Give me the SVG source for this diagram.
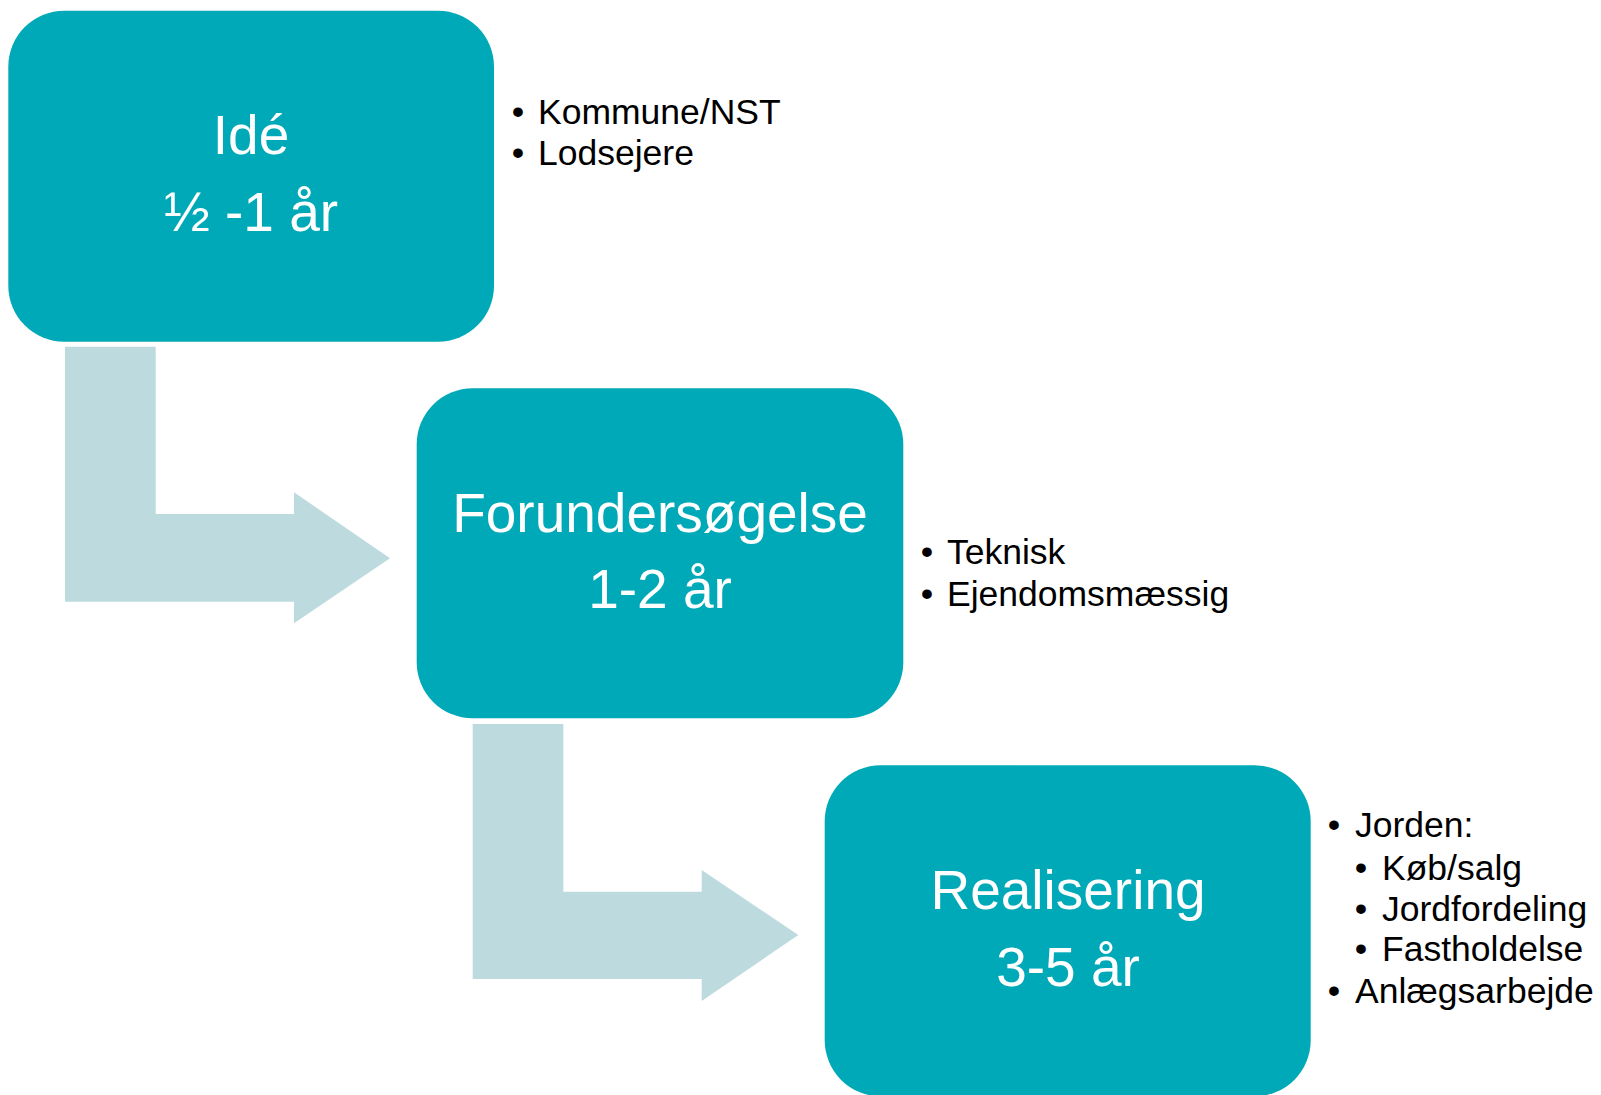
<svg xmlns="http://www.w3.org/2000/svg" width="1601" height="1095" viewBox="0 0 1601 1095">
<style>
.box{fill:#00A9B7}
.arrow{fill:#BDDADE}
.title{font-family:"Liberation Sans",Arial,sans-serif;font-size:55px;fill:#FFFFFF;text-anchor:middle}
.bul{font-family:"Liberation Sans",Arial,sans-serif;font-size:35.5px;fill:#000000}
</style>
<rect width="1601" height="1095" fill="#FFFFFF"/>
<g id="connectors">
<polygon class="arrow" points="65,346.7 155.7,346.7 155.7,514 294,514 294,492.3 390,558.3 294,623.3 294,601.7 65,601.7"/>
<polygon class="arrow" points="472.7,724 563.3,724 563.3,891.7 701.7,891.7 701.7,870 798.3,935 701.7,1001 701.7,979 472.7,979"/>
</g>
<g id="node-ide">
<rect class="box" x="8.3" y="10.7" width="485.7" height="331" rx="56" ry="56"/>
<text class="title" x="251" y="154">Idé</text>
<text class="title" x="251" y="230.5">½ -1 år</text>
</g>
<g id="notes-ide" class="bul">
<text x="518" y="123.5" text-anchor="middle">•</text>
<text x="538" y="123.5">Kommune/NST</text>
<text x="518" y="165" text-anchor="middle">•</text>
<text x="538" y="165">Lodsejere</text>
</g>
<g id="node-forundersogelse">
<rect class="box" x="416.7" y="388.3" width="486.6" height="330" rx="56" ry="56"/>
<text class="title" x="660" y="531.7">Forundersøgelse</text>
<text class="title" x="660" y="608">1-2 år</text>
</g>
<g id="notes-forundersogelse" class="bul">
<text x="927" y="563.6" text-anchor="middle">•</text>
<text x="947" y="563.6">Teknisk</text>
<text x="927" y="605.5" text-anchor="middle">•</text>
<text x="947" y="605.5">Ejendomsmæssig</text>
</g>
<g id="node-realisering">
<rect class="box" x="824.7" y="765.3" width="486" height="331" rx="56" ry="56"/>
<text class="title" x="1068" y="909">Realisering</text>
<text class="title" x="1068" y="985.5">3-5 år</text>
</g>
<g id="notes-realisering" class="bul">
<text x="1334" y="837.3" text-anchor="middle">•</text>
<text x="1355" y="837.3">Jorden:</text>
<text x="1361" y="880" text-anchor="middle">•</text>
<text x="1382" y="880">Køb/salg</text>
<text x="1361" y="920.7" text-anchor="middle">•</text>
<text x="1382" y="920.7">Jordfordeling</text>
<text x="1361" y="961" text-anchor="middle">•</text>
<text x="1382" y="961">Fastholdelse</text>
<text x="1334" y="1002.7" text-anchor="middle">•</text>
<text x="1355" y="1002.7">Anlægsarbejde</text>
</g>
</svg>
